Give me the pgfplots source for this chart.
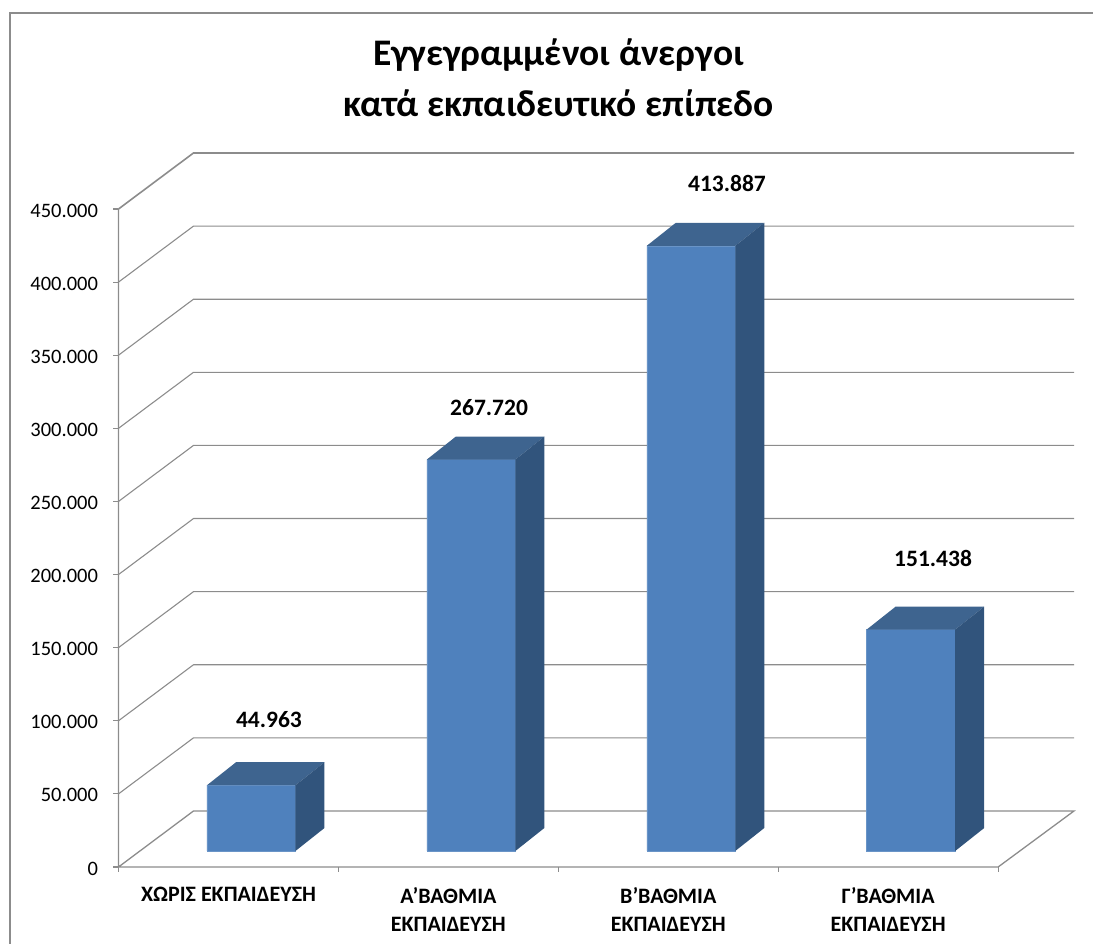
\documentclass[border=0pt]{standalone}
\usepackage{fontspec}
\setmainfont{Carlito}
\usepackage{pgfplots}
\pgfplotsset{compat=1.18}
\definecolor{gridgray}{HTML}{8C8C8C}
\definecolor{barfront}{HTML}{4F81BD}
\definecolor{bartop}{HTML}{3E648F}
\definecolor{barside}{HTML}{31547C}
\begin{document}
\begin{tikzpicture}[x=1pt,y=1pt]
\path[use as bounding box] (0,0) rectangle (1093,944);
\draw[gridgray,line width=1.2pt] (10,-5) -- (10,931) -- (1098,931);
\node[font=\fontsize{37.5}{37.5}\selectfont\bfseries] at (558.5,889) {Εγγεγραμμένοι άνεργοι};
\node[font=\fontsize{37.5}{37.5}\selectfont\bfseries] at (558.5,841) {κατά εκπαιδευτικό επίπεδο};
% walls, floor and axes
\begin{axis}[
  at={(118.5pt,77pt)}, anchor=south west,
  scale only axis, width=955.5pt, height=714pt,
  xmin=0, xmax=4.345, ymin=0, ymax=488304,
  clip=false,
  axis line style={draw=none},
  xtick={0.5,1.5,2.5,3.5},
  minor xtick={0,1,2,3,4},
  xticklabels={ΧΩΡΙΣ ΕΚΠΑΙΔΕΥΣΗ, {Α’ΒΑΘΜΙΑ\\ΕΚΠΑΙΔΕΥΣΗ}, {Β’ΒΑΘΜΙΑ\\ΕΚΠΑΙΔΕΥΣΗ}, {Γ’ΒΑΘΜΙΑ\\ΕΚΠΑΙΔΕΥΣΗ}},
  xticklabel style={font=\fontsize{22}{28}\selectfont\bfseries, align=center, anchor=north, yshift=-12pt},
  ytick={0,50000,...,450000},
  yticklabel style={font=\fontsize{20.5}{24}\selectfont, xshift=-12pt, yshift=-1.5pt},
  scaled y ticks=false,
  /pgf/number format/.cd, fixed, 1000 sep={.}, assume math mode=true,
  /pgfplots/.cd,
  xtick pos=bottom, ytick pos=left, tick align=outside,
  major tick length=5pt, minor tick length=5pt,
  major x tick style={draw=none},
  minor x tick style={gridgray,line width=1.2pt},
  major y tick style={gridgray,line width=1.2pt},
]
\addplot[gridgray,line width=1.3pt] coordinates {(0,450000)(0,0)(4,0)(4.345,38304)(0.341,38304)(0,0)};
\addplot[gridgray,line width=1.1pt] coordinates {(0,50000)(0.341,88304)(4.345,88304)};
\addplot[gridgray,line width=1.1pt] coordinates {(0,100000)(0.341,138304)(4.345,138304)};
\addplot[gridgray,line width=1.1pt] coordinates {(0,150000)(0.341,188304)(4.345,188304)};
\addplot[gridgray,line width=1.1pt] coordinates {(0,200000)(0.341,238304)(4.345,238304)};
\addplot[gridgray,line width=1.1pt] coordinates {(0,250000)(0.341,288304)(4.345,288304)};
\addplot[gridgray,line width=1.1pt] coordinates {(0,300000)(0.341,338304)(4.345,338304)};
\addplot[gridgray,line width=1.1pt] coordinates {(0,350000)(0.341,388304)(4.345,388304)};
\addplot[gridgray,line width=1.1pt] coordinates {(0,400000)(0.341,438304)(4.345,438304)};
\addplot[gridgray,line width=1.6pt] coordinates {(0,450000)(0.341,488304)(4.345,488304)};
\end{axis}
% bars: same scale, base raised 16 px on the floor
\begin{axis}[
  at={(118.5pt,93pt)}, anchor=south west,
  scale only axis, width=955.5pt, height=714pt,
  xmin=0, xmax=4.345, ymin=0, ymax=488304,
  clip=false, hide axis,
]
\addplot[ybar, bar width=88.5pt, fill=barfront, draw=barfront!85!white, line width=0.5pt]
  coordinates {(0.6035,44963)(1.6035,267720)(2.6035,413887)(3.6035,151438)};
\addplot[fill=bartop,draw=none] coordinates {(0.4023,44963)(0.5343,60693)(0.9367,60693)(0.8047,44963)} -- cycle;
\addplot[fill=barside,draw=none] coordinates {(0.8047,44963)(0.9367,60693)(0.9367,15730)(0.8047,0)} -- cycle;
\addplot[fill=bartop,draw=none] coordinates {(1.4023,267720)(1.5343,283450)(1.9367,283450)(1.8047,267720)} -- cycle;
\addplot[fill=barside,draw=none] coordinates {(1.8047,267720)(1.9367,283450)(1.9367,15730)(1.8047,0)} -- cycle;
\addplot[fill=bartop,draw=none] coordinates {(2.4023,413887)(2.5343,429617)(2.9367,429617)(2.8047,413887)} -- cycle;
\addplot[fill=barside,draw=none] coordinates {(2.8047,413887)(2.9367,429617)(2.9367,15730)(2.8047,0)} -- cycle;
\addplot[fill=bartop,draw=none] coordinates {(3.4023,151438)(3.5343,167168)(3.9367,167168)(3.8047,151438)} -- cycle;
\addplot[fill=barside,draw=none] coordinates {(3.8047,151438)(3.9367,167168)(3.9367,15730)(3.8047,0)} -- cycle;
\node[font=\fontsize{23.5}{23.5}\selectfont\bfseries] at (axis cs:0.684,89600) {44.963};
\node[font=\fontsize{23.5}{23.5}\selectfont\bfseries] at (axis cs:1.685,302970) {267.720};
\node[font=\fontsize{23.5}{23.5}\selectfont\bfseries] at (axis cs:2.767,456180) {413.887};
\node[font=\fontsize{23.5}{23.5}\selectfont\bfseries] at (axis cs:3.704,200380) {151.438};
\end{axis}
\end{tikzpicture}
\end{document}
